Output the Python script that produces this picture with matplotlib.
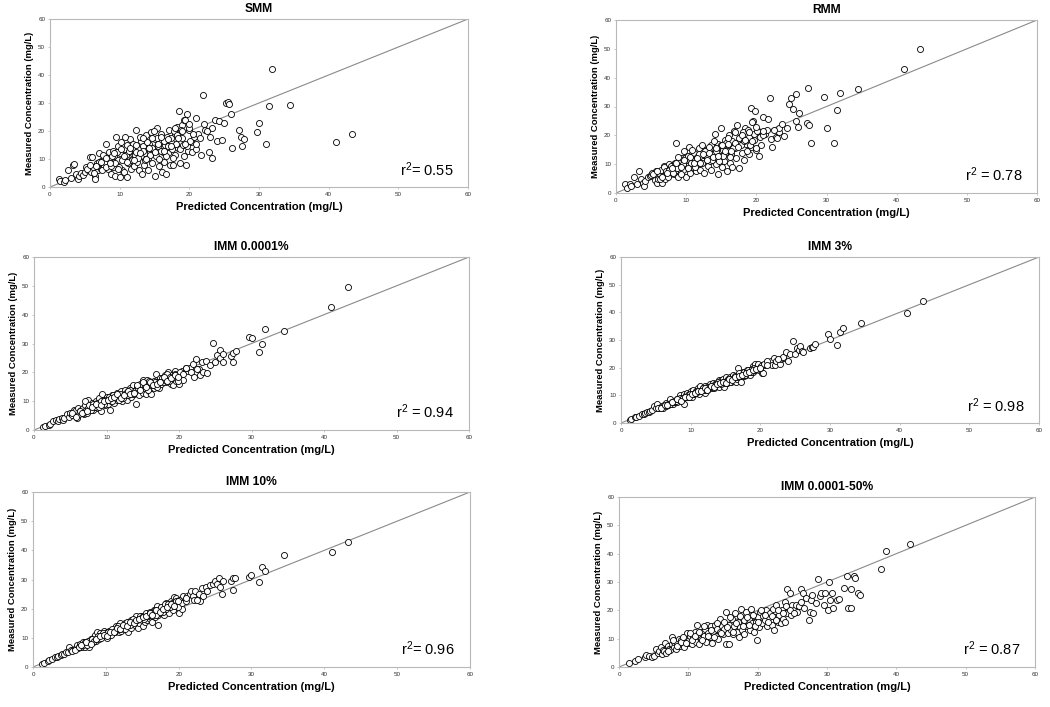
"""
Predicted vs measured concentration — six model panels (SMM, RMM, IMM variants)
"""

import numpy as np
import matplotlib
matplotlib.use("Agg")
import matplotlib.pyplot as plt

plt.rcParams["font.family"] = ["Liberation Sans", "DejaVu Sans"]
plt.rcParams["mathtext.fontset"] = "custom"
plt.rcParams["mathtext.rm"] = "Liberation Sans"
plt.rcParams["mathtext.it"] = "Liberation Sans"

# ─────────────────────────────────────────────
# 1. DATA  (mg/L)
# ─────────────────────────────────────────────
# Panels 1-5 share the same predicted values; measured differs per model.
pred = [
    1.3, 1.5, 2.0, 2.2, 2.6, 3.0, 3.3, 3.5, 3.8, 4.0,
    4.2, 4.5, 4.8, 5.0, 5.2, 5.5, 5.7, 5.9, 6.0, 6.2,
    6.4, 6.5, 6.7, 6.9, 7.0, 7.2, 7.3, 7.5, 7.7, 7.8,
    8.0, 8.2, 8.3, 8.5, 8.6, 8.8, 9.0, 9.1, 9.2, 9.4,
    9.5, 9.7, 9.8, 10.0, 10.1, 10.2, 10.4, 10.5, 10.6, 10.8,
    11.0, 11.1, 11.2, 11.4, 11.5, 11.6, 11.8, 12.0, 12.1, 12.2,
    12.4, 12.5, 12.6, 12.8, 13.0, 13.1, 13.2, 13.4, 13.5, 13.6,
    13.8, 14.0, 14.1, 14.2, 14.4, 14.5, 14.6, 14.8, 15.0, 15.1,
    15.2, 15.4, 15.5, 15.6, 15.8, 16.0, 16.1, 16.2, 16.4, 16.5,
    16.6, 16.8, 17.0, 17.1, 17.2, 17.4, 17.5, 17.7, 17.9, 18.0,
    18.2, 18.4, 18.5, 18.7, 18.9, 19.0, 19.2, 19.3, 19.5, 19.6,
    19.8, 20.0, 20.2, 20.4, 20.6, 20.9, 21.2, 21.5, 21.7, 21.9,
    22.1, 22.3, 22.8, 22.9, 23.2, 23.3, 23.7, 23.9, 24.3, 24.7,
    25.0, 25.2, 25.6, 25.7, 26.0, 26.1, 27.2, 27.4, 27.5, 27.8,
    29.7, 30.0, 31.0, 31.5, 31.9, 34.5, 41.0, 43.3,
    5.3, 5.8, 6.3, 6.8, 7.1, 7.4, 7.6, 7.9, 8.1, 8.4,
    8.7, 8.9, 9.3, 9.6, 9.9, 10.3, 10.7, 10.9, 11.3, 11.7,
    11.9, 12.3, 12.7, 12.9, 13.3, 13.7, 13.9, 14.3, 14.7, 14.9,
    15.3, 15.7, 15.9, 16.3, 16.7, 16.9, 17.3, 17.6, 17.8, 18.1,
    18.3, 18.6, 18.8, 19.1, 19.4, 19.7, 19.9, 20.1, 20.5, 21.0,
    6.6, 7.3, 8.0, 8.6, 9.2, 9.7, 10.2, 10.6, 11.1, 11.5,
    12.0, 12.4, 12.9, 13.3, 13.8, 14.2, 14.6, 15.1, 15.5, 16.0,
    16.4, 16.9, 17.4, 17.9, 18.4, 18.9, 19.4, 19.9, 21.0, 22.5,
]

meas_smm = [
    2.8, 2.0, 1.8, 2.5, 6.0, 3.2, 7.8, 8.2, 4.5, 3.0,
    4.0, 5.0, 4.3, 5.5, 7.2, 6.0, 10.7, 5.2, 10.8, 7.0,
    4.0, 2.8, 8.5, 6.0, 12.0, 8.8, 6.5, 9.5, 10.2, 7.5,
    15.5, 8.0, 6.5, 12.5, 9.0, 4.5, 13.0, 7.0, 11.0, 4.0,
    18.0, 9.5, 14.5, 3.5, 12.0, 16.0, 6.0, 10.0, 5.5, 13.5,
    15.0, 3.5, 8.5, 12.5, 17.0, 6.5, 10.0, 14.0, 7.5, 11.5,
    20.5, 9.0, 13.5, 6.0, 16.5, 11.0, 4.8, 14.5, 8.0, 12.0,
    18.5, 10.5, 6.0, 15.5, 12.5, 19.5, 8.5, 13.5, 17.0, 4.0,
    11.0, 21.0, 14.5, 7.5, 16.5, 19.0, 5.5, 12.5, 9.0, 15.0,
    4.5, 18.0, 12.0, 20.5, 8.0, 16.0, 13.5, 8.0, 19.0, 11.5,
    21.5, 14.0, 27.0, 8.5, 17.5, 22.0, 11.0, 24.0, 8.0, 26.0,
    13.0, 20.5, 16.0, 12.5, 18.0, 24.5, 19.0, 17.5, 11.5, 33.0,
    22.5, 20.5, 12.5, 18.0, 10.5, 21.0, 24.0, 16.3, 23.5, 16.8,
    23.0, 30.0, 30.5, 29.5, 26.0, 14.0, 20.5, 18.0, 14.5, 17.0,
    19.5, 23.0, 15.3, 29.0, 42.3, 29.3, 16.0, 19.0,
    6.5, 8.0, 5.0, 7.5, 9.0, 6.0, 11.5, 9.0, 7.0, 10.5,
    7.5, 11.0, 8.5, 12.5, 7.0, 9.5, 18.0, 11.5, 13.0, 9.5,
    15.5, 12.5, 10.5, 18.0, 13.0, 9.5, 16.0, 11.5, 14.0, 20.0,
    17.5, 10.0, 13.0, 16.5, 11.0, 14.5, 17.5, 10.5, 20.0, 15.5,
    18.5, 13.5, 20.5, 15.0, 24.0, 14.5, 21.0, 16.5, 19.0, 13.5,
    7.5, 9.0, 10.5, 8.5, 12.0, 6.5, 13.5, 11.0, 9.0, 14.0,
    9.5, 15.0, 12.0, 17.5, 10.0, 14.0, 17.5, 12.5, 15.5, 18.0,
    13.0, 17.0, 14.5, 21.0, 17.5, 20.0, 15.5, 22.5, 15.5, 20.0,
]

meas_rmm = [
    3.2, 1.8, 3.0, 2.5, 5.5, 3.0, 7.5, 5.0, 3.5, 2.5,
    4.0, 5.5, 6.0, 6.2, 7.0, 4.5, 7.5, 3.5, 5.0, 6.5,
    8.0, 3.5, 6.0, 9.5, 5.0, 8.5, 7.0, 10.0, 6.5, 8.5,
    9.5, 6.5, 10.0, 8.0, 17.5, 5.5, 11.0, 9.5, 7.5, 12.0,
    8.0, 14.5, 10.5, 5.5, 12.5, 9.5, 16.0, 7.0, 11.5, 13.5,
    9.0, 14.0, 11.5, 7.5, 12.5, 10.0, 15.5, 8.0, 13.0, 16.5,
    11.0, 13.5, 7.0, 15.0, 12.0, 9.5, 14.5, 11.0, 16.5, 8.0,
    13.5, 12.0, 20.5, 10.0, 15.5, 6.5, 17.0, 13.0, 22.5, 9.0,
    15.0, 11.0, 18.5, 14.0, 7.5, 16.5, 20.0, 10.5, 13.5, 18.0,
    9.0, 21.5, 15.5, 12.0, 23.5, 17.0, 8.5, 19.5, 14.0, 18.5,
    11.5, 22.5, 17.0, 20.0, 13.5, 19.5, 29.5, 16.0, 25.0, 20.5,
    28.5, 15.0, 21.5, 12.8, 16.5, 26.5, 20.5, 22.0, 25.5, 33.0,
    18.6, 16.0, 19.5, 19.0, 21.0, 22.5, 24.0, 19.8, 22.5, 30.7,
    32.8, 29.0, 25.0, 34.5, 23.0, 27.7, 24.3, 36.3, 23.5, 17.3,
    33.2, 22.5, 17.3, 28.7, 34.8, 36.0, 43.0, 50.0,
    6.5, 7.5, 5.0, 9.0, 7.5, 5.5, 8.0, 9.5, 7.0, 10.5,
    8.5, 12.5, 6.5, 10.0, 12.0, 13.0, 10.5, 15.0, 9.0, 11.0,
    13.5, 10.5, 14.5, 12.0, 16.0, 11.5, 18.0, 14.5, 11.0, 16.5,
    13.0, 17.5, 19.0, 12.5, 15.5, 21.0, 17.5, 19.0, 16.5, 21.0,
    18.0, 14.5, 22.0, 16.5, 24.5, 18.5, 15.5, 21.5, 19.5, 20.0,
    5.5, 7.0, 8.5, 10.5, 9.0, 11.5, 8.5, 12.5, 10.5, 12.0,
    10.5, 13.5, 11.5, 14.0, 12.5, 15.5, 13.0, 16.5, 14.5, 17.0,
    14.5, 17.5, 16.0, 20.0, 18.5, 21.0, 18.0, 23.0, 21.5, 22.0,
]

meas_imm_0001 = [
    1.2, 1.5, 1.8, 2.2, 3.0, 3.5, 3.0, 3.8, 4.3, 3.5,
    4.0, 5.5, 4.5, 6.0, 5.2, 7.0, 6.5, 4.2, 7.5, 5.5,
    6.5, 7.0, 7.5, 5.5, 8.5, 7.0, 6.0, 10.5, 8.0, 7.5,
    9.5, 7.0, 8.5, 8.0, 10.0, 7.5, 11.0, 8.5, 6.5, 12.5,
    9.0, 10.5, 8.5, 11.5, 10.0, 9.0, 11.0, 7.0, 10.0, 12.0,
    10.5, 9.5, 11.5, 13.0, 10.5, 12.0, 11.0, 13.5, 10.0, 12.0,
    11.5, 14.0, 12.5, 10.5, 13.5, 12.0, 14.5, 11.5, 13.0, 15.5,
    12.5, 14.0, 9.0, 15.0, 13.5, 12.0, 16.0, 14.0, 17.5, 13.0,
    14.5, 12.5, 16.0, 17.5, 13.5, 15.0, 16.5, 12.5, 15.5, 14.5,
    17.0, 19.5, 15.0, 16.5, 14.5, 18.0, 16.0, 17.5, 17.0, 19.0,
    16.5, 18.5, 20.0, 17.5, 16.0, 19.0, 15.5, 18.0, 20.5, 17.0,
    19.0, 16.0, 18.5, 20.5, 17.5, 21.0, 20.5, 21.5, 20.0, 23.0,
    18.5, 24.5, 21.0, 19.0, 23.5, 20.0, 24.0, 19.8, 22.5, 30.2,
    23.5, 26.0, 25.0, 27.8, 26.3, 23.5, 25.8, 26.8, 23.5, 27.5,
    32.2, 32.0, 27.2, 29.7, 35.2, 34.2, 42.8, 49.5,
    6.0, 4.5, 6.5, 6.0, 10.0, 7.5, 8.5, 7.0, 9.0, 8.0,
    9.5, 8.0, 10.0, 9.0, 10.5, 11.5, 10.0, 12.0, 11.0, 10.5,
    12.5, 11.0, 13.0, 12.0, 14.0, 12.5, 13.5, 14.5, 15.0, 16.0,
    15.5, 14.0, 17.0, 15.5, 16.5, 15.0, 16.5, 18.0, 16.5, 17.5,
    19.5, 17.0, 18.5, 18.0, 19.5, 19.0, 17.0, 20.0, 19.5, 21.5,
    6.0, 6.5, 8.0, 9.0, 8.5, 10.0, 10.5, 11.0, 11.5, 12.5,
    11.0, 12.0, 13.5, 12.5, 13.0, 15.5, 14.0, 16.5, 15.0, 16.5,
    15.5, 16.0, 16.5, 18.5, 17.0, 18.0, 19.0, 18.5, 21.5, 21.0,
]

meas_imm_3 = [
    1.2, 1.5, 2.0, 2.3, 2.7, 3.2, 3.4, 3.7, 4.0, 4.1,
    4.5, 4.8, 6.3, 5.5, 7.0, 5.3, 5.8, 6.0, 5.5, 6.5,
    6.0, 7.3, 6.5, 6.8, 8.5, 6.8, 7.5, 7.0, 8.0, 7.5,
    7.5, 8.5, 9.0, 10.0, 8.0, 9.0, 10.5, 7.0, 9.5, 10.0,
    11.0, 9.5, 10.5, 10.0, 11.5, 9.5, 12.0, 10.5, 11.0, 11.5,
    11.5, 12.5, 10.5, 13.5, 11.5, 12.0, 12.5, 13.5, 11.0, 12.5,
    12.0, 13.5, 12.5, 14.0, 12.5, 13.0, 14.5, 13.0, 14.0, 13.5,
    14.5, 15.5, 13.0, 14.5, 15.5, 14.0, 16.0, 13.0, 15.0, 16.5,
    14.5, 16.0, 15.5, 16.5, 15.0, 16.5, 17.5, 15.5, 16.5, 15.0,
    16.0, 20.0, 16.5, 17.5, 15.0, 17.0, 18.5, 17.0, 18.5, 17.5,
    18.0, 19.0, 17.5, 18.5, 20.5, 18.5, 21.5, 19.0, 20.0, 19.5,
    19.0, 21.0, 18.0, 18.0, 21.0, 22.0, 21.5, 22.5, 21.0, 23.5,
    21.0, 22.5, 21.5, 23.0, 23.5, 24.0, 25.5, 22.3, 25.0, 29.5,
    25.0, 27.0, 26.5, 28.0, 26.0, 25.5, 27.0, 27.5, 27.5, 28.5,
    32.0, 30.5, 28.3, 33.0, 34.2, 36.0, 39.8, 44.0,
    5.5, 5.5, 6.5, 7.0, 7.0, 7.5, 8.0, 8.0, 8.5, 9.0,
    8.5, 9.0, 9.5, 10.0, 10.5, 10.5, 11.0, 11.5, 11.5, 12.5,
    12.0, 12.0, 13.0, 13.5, 12.5, 14.0, 15.0, 14.0, 15.0, 14.5,
    15.5, 15.0, 16.0, 17.0, 16.5, 18.0, 17.5, 18.5, 17.5, 19.0,
    19.0, 18.5, 19.5, 20.0, 19.5, 21.5, 20.0, 20.5, 21.5, 22.5,
    6.5, 7.5, 8.5, 8.0, 9.5, 9.5, 10.5, 11.0, 11.5, 11.5,
    12.5, 12.0, 13.5, 13.0, 14.0, 14.5, 15.0, 14.5, 16.0, 15.5,
    16.5, 17.0, 17.5, 18.0, 18.5, 19.0, 19.5, 20.0, 21.0, 23.0,
]

meas_imm_10 = [
    1.2, 1.5, 2.1, 2.3, 2.8, 3.3, 3.6, 3.9, 4.2, 4.3,
    4.5, 5.0, 5.3, 7.0, 5.7, 6.0, 6.2, 6.5, 7.5, 6.5,
    6.8, 8.0, 7.0, 8.5, 7.5, 7.0, 8.5, 8.0, 7.0, 9.0,
    9.5, 8.5, 10.0, 11.0, 9.0, 12.0, 10.0, 9.5, 11.5, 10.5,
    11.0, 12.5, 10.5, 11.5, 12.0, 10.0, 12.5, 11.0, 12.0, 11.5,
    12.5, 13.0, 12.0, 14.0, 12.5, 13.5, 12.0, 15.0, 12.5, 13.5,
    14.0, 13.0, 15.0, 14.5, 12.0, 15.5, 14.0, 16.0, 13.5, 15.0,
    16.0, 14.5, 17.5, 15.5, 13.5, 16.5, 15.0, 17.5, 16.0, 14.0,
    17.0, 15.5, 18.5, 16.0, 17.5, 16.5, 19.0, 17.0, 15.5, 18.0,
    19.5, 17.0, 21.0, 18.0, 14.5, 19.0, 18.5, 20.5, 19.0, 18.0,
    22.0, 19.5, 21.0, 18.5, 20.5, 22.5, 19.5, 24.0, 21.0, 23.5,
    21.0, 18.5, 22.5, 20.0, 24.5, 23.0, 24.5, 25.0, 26.0, 24.5,
    23.0, 26.0, 25.0, 22.5, 27.0, 24.5, 27.5, 26.0, 28.0, 28.5,
    29.5, 28.5, 30.5, 27.5, 25.0, 29.5, 29.5, 30.5, 26.5, 30.5,
    31.0, 31.5, 29.0, 34.2, 32.8, 38.5, 39.6, 43.0,
    5.5, 6.0, 7.0, 7.5, 8.5, 7.5, 9.0, 8.5, 9.5, 9.0,
    9.5, 10.5, 10.0, 11.5, 11.0, 12.0, 11.0, 13.0, 12.5, 14.0,
    13.0, 14.0, 13.0, 15.5, 14.5, 16.5, 15.5, 16.0, 17.5, 17.0,
    16.5, 17.5, 18.0, 17.5, 19.5, 18.0, 19.5, 20.5, 19.0, 21.5,
    20.0, 21.5, 20.5, 22.0, 21.5, 22.5, 20.5, 23.0, 22.0, 22.5,
    7.5, 8.5, 8.0, 9.5, 10.5, 11.0, 10.5, 12.0, 12.0, 13.5,
    13.0, 14.5, 14.0, 15.5, 15.0, 16.0, 16.5, 17.0, 17.5, 18.5,
    18.0, 19.5, 19.0, 20.0, 20.5, 21.5, 21.0, 22.5, 23.5, 23.0,
]

# IMM 0.0001-50% has its own predicted values
pred_imm_50 = [
    1.5, 2.3, 2.8, 3.7, 3.9, 4.3, 4.8, 5.0, 5.4, 5.6,
    5.8, 6.0, 6.2, 6.4, 6.5, 6.7, 6.8, 7.0, 7.2, 7.4,
    7.6, 7.7, 7.9, 8.0, 8.2, 8.4, 8.6, 8.8, 9.0, 9.2,
    9.4, 9.6, 9.8, 10.0, 10.1, 10.3, 10.5, 10.7, 10.9, 11.1,
    11.3, 11.4, 11.6, 11.8, 12.0, 12.2, 12.4, 12.5, 12.7, 12.9,
    13.1, 13.2, 13.4, 13.6, 13.8, 14.0, 14.1, 14.3, 14.5, 14.6,
    14.8, 15.0, 15.2, 15.4, 15.5, 15.7, 15.8, 15.9, 16.1, 16.3,
    16.5, 16.6, 16.8, 17.0, 17.2, 17.3, 17.5, 17.6, 17.8, 18.0,
    18.1, 18.3, 18.5, 18.7, 18.9, 19.0, 19.2, 19.4, 19.5, 19.7,
    19.9, 20.0, 20.2, 20.4, 20.6, 20.8, 21.0, 21.2, 21.4, 21.6,
    21.8, 22.0, 22.2, 22.4, 22.5, 22.7, 22.9, 23.1, 23.3, 23.5,
    23.7, 23.9, 24.0, 24.2, 24.3, 24.5, 24.7, 24.8, 25.0, 25.2,
    25.5, 25.7, 26.0, 26.2, 26.5, 26.7, 27.0, 27.4, 27.5, 27.7,
    27.8, 28.0, 28.4, 28.7, 29.0, 29.2, 29.5, 29.7, 30.2, 30.3,
    30.5, 30.7, 30.8, 31.5, 31.8, 32.4, 32.9, 33.0, 33.5, 33.5,
    33.9, 34.1, 34.5, 34.7, 37.8, 38.5, 42.0,
    7.1, 7.8, 8.3, 8.9, 9.3, 9.7, 10.2, 10.6, 11.0, 11.5,
    11.9, 12.3, 12.8, 13.3, 13.7, 14.2, 14.7, 15.1, 15.6, 16.0,
    16.4, 16.9, 17.4, 17.9, 18.4, 18.8, 19.3, 19.6, 20.1, 20.5,
    21.1, 21.5, 22.1, 22.6, 23.0, 23.6, 24.1, 24.6, 25.3, 26.3,
]

meas_imm_50 = [
    1.5, 2.0, 2.8, 3.5, 4.3, 3.8, 3.5, 4.0, 6.5, 5.0,
    5.5, 7.0, 4.5, 6.0, 5.5, 8.5, 4.8, 7.5, 6.5, 6.0,
    10.5, 8.0, 7.0, 9.0, 6.5, 8.5, 10.0, 7.5, 9.5, 8.0,
    7.0, 10.5, 12.0, 8.5, 9.5, 11.0, 8.0, 10.5, 12.5, 9.0,
    15.0, 11.5, 8.0, 10.0, 12.5, 11.0, 13.5, 9.0, 15.0, 12.0,
    10.5, 14.5, 8.5, 12.5, 15.0, 11.0, 13.5, 10.0, 17.0, 12.5,
    14.5, 11.5, 13.5, 8.2, 19.5, 12.0, 8.2, 15.0, 13.0, 17.0,
    11.5, 14.5, 19.0, 12.5, 16.0, 10.5, 14.0, 20.5, 13.0, 16.5,
    11.5, 19.5, 14.5, 17.0, 13.0, 20.5, 15.5, 12.5, 18.0, 16.0,
    9.5, 17.5, 14.0, 19.5, 15.5, 18.0, 16.5, 20.0, 14.5, 17.5,
    19.0, 15.0, 20.5, 13.0, 17.5, 22.0, 16.0, 18.5, 15.5, 20.0,
    17.0, 23.0, 16.0, 19.0, 27.5, 21.0, 26.0, 18.5, 22.0, 20.0,
    22.0, 19.5, 21.5, 27.5, 26.0, 21.0, 24.5, 16.5, 19.5, 23.5,
    25.5, 19.0, 22.5, 31.0, 25.0, 26.0, 22.0, 26.0, 20.0, 30.0,
    23.5, 26.0, 21.0, 23.5, 24.0, 28.0, 32.0, 21.0, 21.0, 27.5,
    32.0, 31.5, 26.0, 25.5, 34.5, 41.0, 43.5,
    5.5, 9.5, 7.5, 9.0, 10.5, 8.5, 12.0, 9.5, 11.0, 12.5,
    9.5, 14.5, 11.0, 13.0, 10.5, 15.5, 12.0, 16.0, 14.0, 17.5,
    12.5, 15.5, 18.0, 14.5, 17.5, 15.0, 18.5, 14.5, 16.0, 20.0,
    18.5, 16.0, 18.0, 16.5, 20.0, 19.0, 21.5, 20.0, 19.0, 23.0,
]

titles = ["SMM", "RMM", "IMM 0.0001%", "IMM 3%", "IMM 10%", "IMM 0.0001-50%"]
r2_text = ["r$^2$= 0.55", "r$^2$ = 0.78", "r$^2$ = 0.94",
           "r$^2$ = 0.98", "r$^2$= 0.96", "r$^2$ = 0.87"]
xs = [pred, pred, pred, pred, pred, pred_imm_50]
ys = [meas_smm, meas_rmm, meas_imm_0001, meas_imm_3, meas_imm_10, meas_imm_50]

# axes boxes in figure pixels (left, top, right, bottom) of a 1050x707 canvas
boxes = [(50, 19, 468, 187), (616, 20, 1037, 193),
         (34, 257, 469, 430), (621, 257, 1039, 423),
         (33, 492, 470, 667), (619, 497, 1035, 667)]

# ─────────────────────────────────────────────
# 2. PLOT
# ─────────────────────────────────────────────
W, H = 1050, 707
fig = plt.figure(figsize=(W / 100, H / 100), dpi=100)

for (l, t, r, b), x, y, title, r2 in zip(boxes, xs, ys, titles, r2_text):
    ax = fig.add_axes([l / W, 1 - b / H, (r - l) / W, (b - t) / H])
    ax.plot([0, 60], [0, 60], color="#8a8a8a", lw=0.8, zorder=1)
    ax.scatter(x, y, s=19, facecolors="white", edgecolors="black",
               linewidths=0.6, zorder=2)
    ax.set_xlim(0, 60); ax.set_ylim(0, 60)
    ax.set_xticks(np.arange(0, 61, 10)); ax.set_yticks(np.arange(0, 61, 10))
    ax.tick_params(labelsize=4.5, length=1.5, width=0.5, colors="#b0b0b0",
                   labelcolor="#333333", pad=2)
    for s in ax.spines.values():
        s.set_color("#b8b8b8"); s.set_linewidth(0.8)
    ax.set_title(title, fontsize=8.7, fontweight="bold", pad=5)
    ax.set_xlabel("Predicted Concentration (mg/L)", fontsize=8,
                  fontweight="bold", labelpad=4)
    ax.set_ylabel("Measured Concentration (mg/L)", fontsize=6.8,
                  fontweight="bold", labelpad=3)
    ax.text(0.965, 0.05, r2, transform=ax.transAxes, ha="right",
            va="bottom", fontsize=10.5)

plt.savefig("out.png", dpi=100)
plt.close()
